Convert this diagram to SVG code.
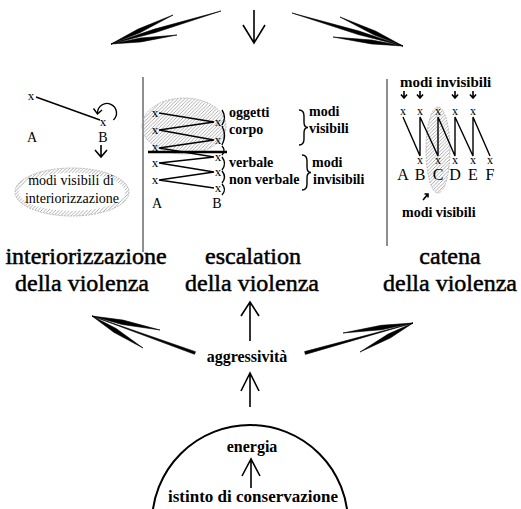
<svg xmlns="http://www.w3.org/2000/svg" width="521" height="509" viewBox="0 0 521 509" font-family="Liberation Serif, DejaVu Serif, serif">
<defs>
<pattern id="hatch" patternUnits="userSpaceOnUse" width="3.5" height="3.5">
<path d="M-1,1 l2,-2 M0,3.5 l3.5,-3.5 M2.5,4.5 l2,-2" stroke="#8a8a8a" stroke-width="0.7"/>
</pattern>
</defs>
<style>
text{font-family:'Liberation Serif','DejaVu Serif',serif;fill:#000}
.r{font-weight:normal}
.b{font-weight:bold}
.m{text-anchor:middle}
.ln{stroke:#000;fill:none;stroke-width:1.4}
.ar{fill:#000;stroke:#000;stroke-width:0.6;stroke-linejoin:miter}
.ha{fill:url(#hatch);stroke:#aaa;stroke-width:0.8;stroke-dasharray:2 1}
.sm{stroke:#000;fill:none;stroke-width:1.6}
</style>
<rect width="521" height="509" fill="#fff"/>

<g id="connectors">
<polygon class="ar" points="111,44 155.5,32.5 221,11 154.5,29.1"/>
<polygon class="ar" points="111,44 139.8,32.8 173,15 138.1,29.1"/>
<polygon class="ar" points="111,44 141,41.9 177,35 140.4,38"/>
<path class="sm" d="M254,10 V43 M243,25 L254,43 L265,25" stroke-width="2.2"/>
<polygon class="ar" points="403,46 359.1,31.1 292,13 358.1,34.5"/>
<polygon class="ar" points="403,46 375.5,31.1 340,17 373.8,34.8"/>
<polygon class="ar" points="403,46 371.8,40 333,37 371.3,43.9"/>
<polygon class="ar" points="92,316 195.5,351.7 194.5,354.3"/>
<polygon class="ar" points="92,316 123,320.1 160,330 122.2,324.5"/>
<polygon class="ar" points="92,316 116.1,328.5 143,348 113.8,332.3"/>
<polygon class="ar" points="413,323 304.6,351.6 305.4,354.4"/>
<polygon class="ar" points="413,323 381.2,325.3 343,333 381.8,329.7"/>
<polygon class="ar" points="413,323 388.1,334.1 360,352 390.2,338"/>
<path class="sm" d="M250,341 V303 M241,316 L250,302 L259,316" stroke-width="2.2"/>
<path class="sm" d="M250,407 V374 M241,391 L250,373 L259,391" stroke-width="2.2"/>
<path class="sm" d="M251,488 V461 M242,476 L251,459 L260,476" stroke-width="2.2"/>
</g>

<g id="dividers">
<line x1="143" y1="77" x2="143" y2="252" stroke="#444" stroke-width="1.2"/>
<line x1="387" y1="79" x2="387" y2="246" stroke="#444" stroke-width="1.2"/>
</g>

<g id="interiorizzazione-panel">
<text class="r m" x="31" y="100" font-size="13">x</text>
<line class="ln" x1="36" y1="97" x2="100" y2="120" stroke-width="1.3"/>
<text class="r m" x="103" y="125.5" font-size="13">x</text>
<path class="ln" d="M113.4,120 A9.5 9.5 0 1 0 97.5,113" stroke-width="1.4"/>
<path class="ln" d="M93.5,108.5 L97.5,114 L102,110" stroke-width="1.4"/>
<text class="r m" x="32" y="141.5" font-size="14">A</text>
<text class="r m" x="103" y="141.5" font-size="14">B</text>
<path class="sm" d="M101,145 V157 M95,150 L101,157 L107,150" stroke-width="2"/>
<ellipse class="ha" cx="72" cy="192" rx="57" ry="24"/>
<ellipse cx="72" cy="192" rx="53" ry="19" fill="#fff"/>
<text class="r m" x="71" y="185" font-size="14">modi visibili di</text>
<text class="r m" x="72" y="203" font-size="14">interiorizzazione</text>
</g>

<g id="escalation-panel">
<ellipse class="ha" cx="184" cy="126" rx="42" ry="28" stroke-dasharray="none" stroke="#ccc"/>
<polyline class="ln" points="159,113 214,122 159,130 214,140 159,148 214,157 159,163 214,172 159,180 214,188"/>
<line x1="148" y1="152" x2="227" y2="152" stroke="#000" stroke-width="2.6"/>
<g class="r m" font-size="13">
<text x="155" y="116.5">x</text><text x="155" y="133.5">x</text><text x="155" y="151">x</text><text x="155" y="166.5">x</text><text x="155" y="183.5">x</text>
<text x="218" y="125.5">x</text><text x="218" y="143.5">x</text><text x="218" y="160.5">x</text><text x="218" y="175.5">x</text><text x="218" y="191.5">x</text>
</g>
<path class="ln" stroke-width="1.1" d="M222,110 Q227,117.5 222,125 M222,126 Q227,135.5 222,145 M222,146 Q226,150.5 222,155 M222,157 Q227,163.5 222,170 M222,171 Q227,177 222,183 M222,184 Q227,189.5 222,195"/>
<g class="b" font-size="14">
<text x="229" y="117">oggetti</text>
<text x="229" y="134">corpo</text>
<text x="229" y="167">verbale</text>
<text x="229" y="184">non verbale</text>
<text x="309" y="116">modi</text>
<text x="309" y="133">visibili</text>
<text x="312" y="167">modi</text>
<text x="313" y="184">invisibili</text>
</g>
<path class="ln" stroke-width="1.3" d="M299,110 Q304,110 304,116 L304,122 Q304,127.5 308,127.5 Q304,127.5 304,133 L304,139 Q304,145 299,145"/>
<path class="ln" stroke-width="1.3" d="M302,155 Q307,155 307,161 L307,167 Q307,172.5 311,172.5 Q307,172.5 307,178 L307,184 Q307,190 302,190"/>
<text class="r m" x="157" y="208" font-size="14">A</text>
<text class="r m" x="217" y="208" font-size="14">B</text>
</g>

<g id="catena-panel">
<text class="b" x="400" y="87" font-size="15">modi invisibili</text>
<path class="sm" stroke-width="1.3" d="M404,91 V98 M401,94.5 L404,98 L407,94.5 M420,91 V98 M417,94.5 L420,98 L423,94.5 M455,91 V98 M452,94.5 L455,98 L458,94.5 M473,91 V98 M470,94.5 L473,98 L476,94.5"/>
<ellipse class="ha" cx="438" cy="150" rx="12" ry="43" stroke-dasharray="none" stroke="#ccc"/>
<polyline class="ln" stroke-width="1.3" points="403,117 420,156 420,117 438,156 438,117 455,156 455,117 473,156 473,117 490,156"/>
<g class="r m" font-size="12">
<text x="403" y="114.5">x</text><text x="420" y="114.5">x</text><text x="438" y="114.5">x</text><text x="455" y="114.5">x</text><text x="473" y="114.5">x</text>
<text x="420" y="164">x</text><text x="438" y="164">x</text><text x="455" y="164">x</text><text x="473" y="164">x</text><text x="490" y="164">x</text>
</g>
<g class="r m" font-size="16">
<text x="403" y="180">A</text><text x="420" y="180">B</text><text x="438" y="180">C</text><text x="455" y="180">D</text><text x="473" y="180">E</text><text x="490" y="180">F</text>
</g>
<path class="sm" stroke-width="1.2" d="M423,200 L428,194 M424.5,194 L428,194 L428,197.5"/>
<text class="b" x="402" y="217" font-size="14">modi visibili</text>
</g>

<g id="titles" class="r m" font-size="24" stroke="#000" stroke-width="0.5">
<text x="86" y="264">interiorizzazione</text>
<text x="82" y="291">della violenza</text>
<text x="253" y="264">escalation</text>
<text x="252" y="291">della violenza</text>
<text x="450" y="264">catena</text>
<text x="450" y="291">della violenza</text>
</g>

<g id="aggressivita">
<text class="b m" x="247" y="362" font-size="16">aggressività</text>
</g>

<g id="istinto">
<circle cx="250" cy="523" r="98" fill="none" stroke="#000" stroke-width="2"/>
<text class="b m" x="252" y="452" font-size="16">energia</text>
<text class="b m" x="253" y="502" font-size="17">istinto di conservazione</text>
</g>
</svg>
